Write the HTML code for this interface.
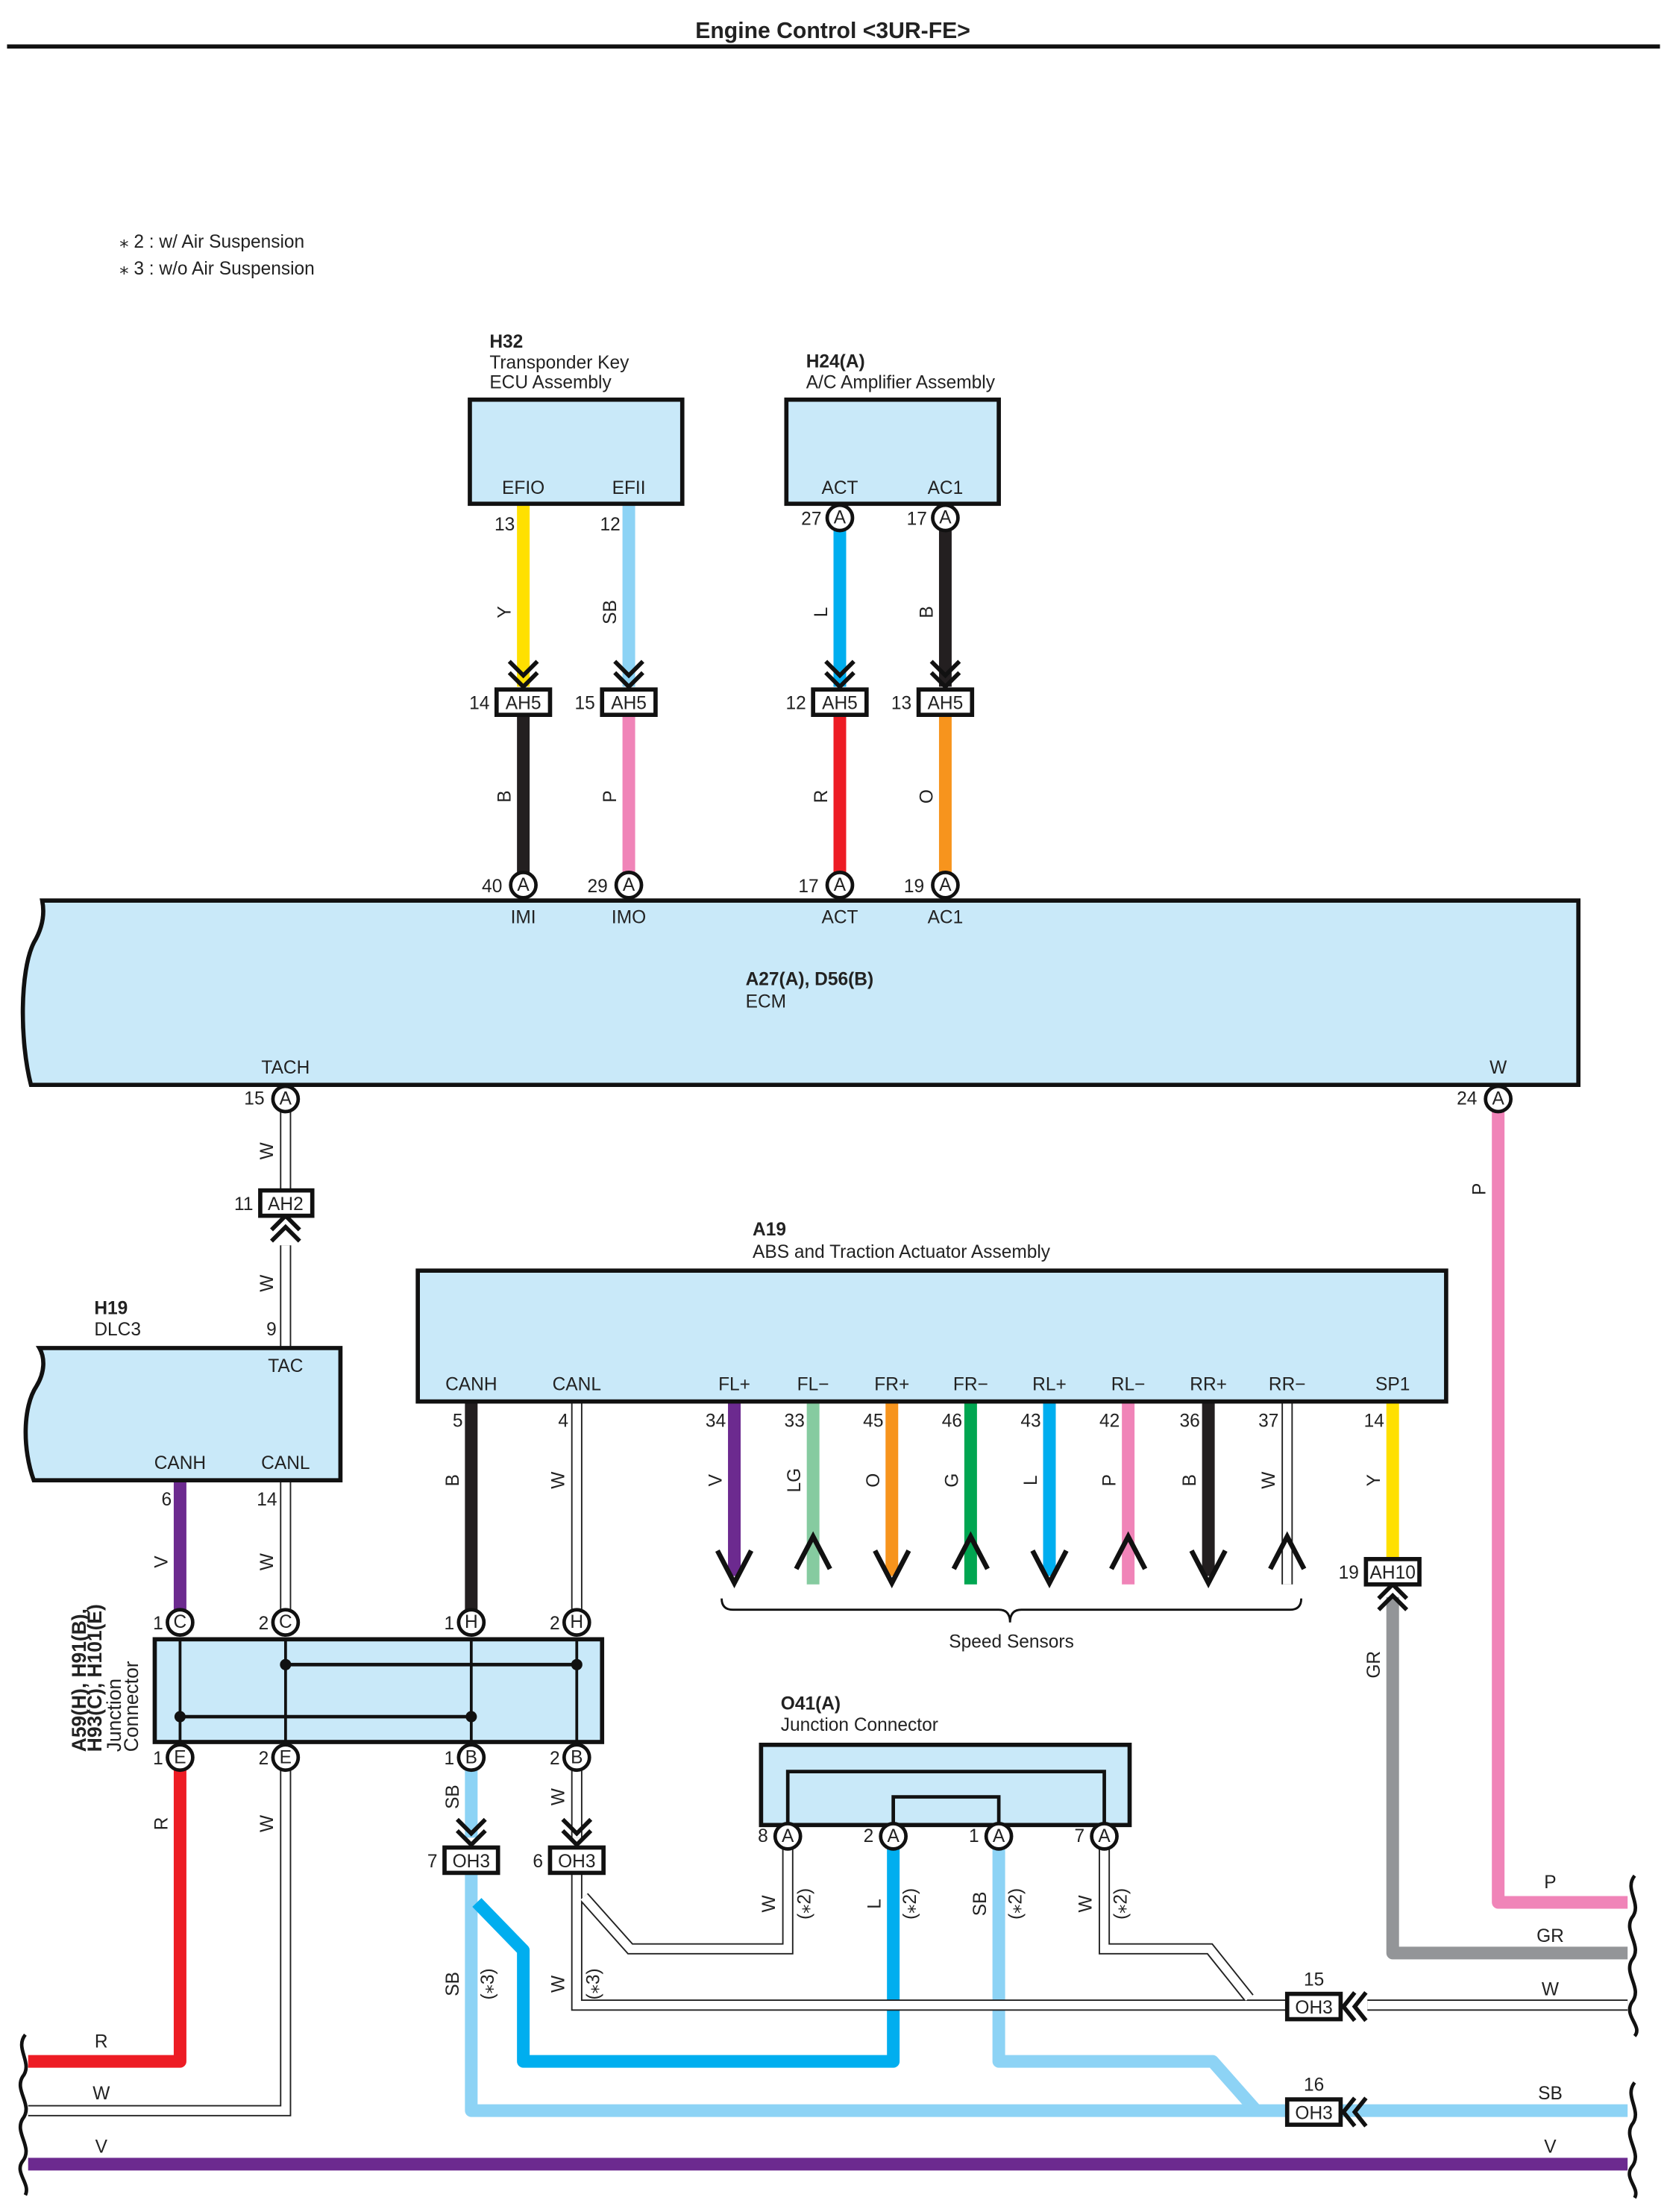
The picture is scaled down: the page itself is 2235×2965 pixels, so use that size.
<!DOCTYPE html>
<html><head><meta charset="utf-8"><style>
html,body{margin:0;padding:0;background:#fff}
svg{display:block}
text{font-family:"Liberation Sans",sans-serif;font-size:13px;fill:#222}
.b{font-weight:bold}
.pin{font-size:11px;text-anchor:middle}
.c{text-anchor:middle}
</style></head><body>
<svg width="2235" height="2965" viewBox="0 0 1185 1572" xmlns="http://www.w3.org/2000/svg">
<!-- title -->
<text x="592" y="27" class="b c" style="font-size:16px">Engine Control &lt;3UR-FE&gt;</text>
<line x1="5" y1="33" x2="1180" y2="33" stroke="#111" stroke-width="3"/>
<text x="85" y="176">⁎ 2 : w/ Air Suspension</text>
<text x="85" y="195">⁎ 3 : w/o Air Suspension</text>

<g fill="none" stroke-linejoin="round">
<line x1="372" y1="358" x2="372" y2="488" stroke="#ffe000" stroke-width="9"/>
<line x1="447" y1="358" x2="447" y2="488" stroke="#8dd3f5" stroke-width="9"/>
<line x1="372" y1="508" x2="372" y2="622" stroke="#231f20" stroke-width="9"/>
<line x1="447" y1="508" x2="447" y2="622" stroke="#f084b8" stroke-width="9"/>
<line x1="597" y1="376" x2="597" y2="488" stroke="#00aeef" stroke-width="9"/>
<line x1="672" y1="376" x2="672" y2="488" stroke="#231f20" stroke-width="9"/>
<line x1="597" y1="508" x2="597" y2="622" stroke="#ed1c24" stroke-width="9"/>
<line x1="672" y1="508" x2="672" y2="622" stroke="#f7941d" stroke-width="9"/>
<polyline points="1065,790 1065,1352 1157,1352" stroke="#f084b8" stroke-width="9"/>
<polyline points="990,1135 990,1388 1157,1388" stroke="#939598" stroke-width="9"/>
<line x1="990" y1="996" x2="990" y2="1108" stroke="#ffe000" stroke-width="9"/>
<line x1="128" y1="1052" x2="128" y2="1145" stroke="#6c2a8f" stroke-width="9"/>
<line x1="335" y1="996" x2="335" y2="1145" stroke="#231f20" stroke-width="9"/>
<line x1="522" y1="996" x2="522" y2="1120" stroke="#6c2a8f" stroke-width="9"/>
<line x1="578" y1="996" x2="578" y2="1126" stroke="#86cba0" stroke-width="9"/>
<line x1="634" y1="996" x2="634" y2="1120" stroke="#f7941d" stroke-width="9"/>
<line x1="690" y1="996" x2="690" y2="1126" stroke="#00a651" stroke-width="9"/>
<line x1="746" y1="996" x2="746" y2="1120" stroke="#00aeef" stroke-width="9"/>
<line x1="802" y1="996" x2="802" y2="1126" stroke="#f084b8" stroke-width="9"/>
<line x1="859" y1="996" x2="859" y2="1120" stroke="#231f20" stroke-width="9"/>
<polyline points="128,1258 128,1465 20,1465" stroke="#ed1c24" stroke-width="9"/>
<polyline points="335,1258 335,1306" stroke="#8dd3f5" stroke-width="9"/>
<polyline points="335,1331 335,1500 1157,1500" stroke="#8dd3f5" stroke-width="9"/>
<polyline points="339,1352 372,1386 372,1465 635,1465 635,1313" stroke="#00aeef" stroke-width="9"/>
<polyline points="710,1313 710,1465 862,1465 893,1500" stroke="#8dd3f5" stroke-width="9"/>
<line x1="20" y1="1538" x2="1157" y2="1538" stroke="#6c2a8f" stroke-width="9"/>
</g>

<g fill="none" stroke-linejoin="miter">
<g stroke="#222" stroke-width="8">
<line x1="203" y1="790" x2="203" y2="846"/>
<line x1="203" y1="885" x2="203" y2="1145"/>
<polyline points="203,1258 203,1500 20,1500"/>
<line x1="410" y1="996" x2="410" y2="1145"/>
<line x1="410" y1="1258" x2="410" y2="1306"/>
<polyline points="410,1331 410,1425 915,1425"/>
<polyline points="415,1348 448,1385 560,1385 560,1313"/>
<polyline points="785,1313 785,1385 860,1385 888,1420"/>
<line x1="972" y1="1425" x2="1157" y2="1425"/>
<line x1="915" y1="996" x2="915" y2="1126"/>
</g>
<g stroke="#fff" stroke-width="6">
<line x1="203" y1="790" x2="203" y2="846"/>
<line x1="203" y1="885" x2="203" y2="1145"/>
<polyline points="203,1258 203,1500 20,1500"/>
<line x1="410" y1="996" x2="410" y2="1145"/>
<line x1="410" y1="1258" x2="410" y2="1306"/>
<polyline points="410,1331 410,1425 915,1425"/>
<polyline points="415,1348 448,1385 560,1385 560,1313"/>
<polyline points="785,1313 785,1385 860,1385 888,1420"/>
<line x1="972" y1="1425" x2="1157" y2="1425"/>
<line x1="915" y1="996" x2="915" y2="1126"/>
</g>
</g>

<g fill="#c9e9f9" stroke="#111" stroke-width="3">
<rect x="334" y="284" width="151" height="74"/>
<rect x="559" y="284" width="151" height="74"/>
<path d="M30,640 H1122 V771 H22 C14,740 14,690 24,670 C30,660 32,650 30,640 Z"/>
<path d="M28,958 H242 V1052 H24 C16,1030 16,1000 26,985 C32,975 32,965 28,958 Z"/>
<rect x="297" y="903" width="731" height="93"/>
<rect x="110" y="1165" width="318" height="73"/>
<rect x="541" y="1240" width="262" height="57"/>
</g>

<text x="348" y="247" class="b">H32</text>
<text x="348" y="262">Transponder Key</text>
<text x="348" y="276">ECU Assembly</text>
<text x="372" y="351" class="c">EFIO</text>
<text x="447" y="351" class="c">EFII</text>
<text x="366" y="377" style="text-anchor:end">13</text>
<text x="441" y="377" style="text-anchor:end">12</text>
<text x="573" y="261" class="b">H24(A)</text>
<text x="573" y="276">A/C Amplifier Assembly</text>
<text x="597" y="351" class="c">ACT</text>
<text x="672" y="351" class="c">AC1</text>
<text x="584" y="373" style="text-anchor:end">27</text>
<text x="659" y="373" style="text-anchor:end">17</text>

<g>
<text transform="translate(363,435) rotate(-90)" class="c">Y</text>
<text transform="translate(438,435) rotate(-90)" class="c">SB</text>
<text transform="translate(588,435) rotate(-90)" class="c">L</text>
<text transform="translate(663,435) rotate(-90)" class="c">B</text>
<text transform="translate(363,566) rotate(-90)" class="c">B</text>
<text transform="translate(438,566) rotate(-90)" class="c">P</text>
<text transform="translate(588,566) rotate(-90)" class="c">R</text>
<text transform="translate(663,566) rotate(-90)" class="c">O</text>
<text transform="translate(194,818) rotate(-90)" class="c">W</text>
<text transform="translate(194,912) rotate(-90)" class="c">W</text>
<text transform="translate(1056,845) rotate(-90)" class="c">P</text>
<text transform="translate(119,1110) rotate(-90)" class="c">V</text>
<text transform="translate(194,1110) rotate(-90)" class="c">W</text>
<text transform="translate(326,1052) rotate(-90)" class="c">B</text>
<text transform="translate(401,1052) rotate(-90)" class="c">W</text>
<text transform="translate(513,1052) rotate(-90)" class="c">V</text>
<text transform="translate(569,1052) rotate(-90)" class="c">LG</text>
<text transform="translate(625,1052) rotate(-90)" class="c">O</text>
<text transform="translate(681,1052) rotate(-90)" class="c">G</text>
<text transform="translate(737,1052) rotate(-90)" class="c">L</text>
<text transform="translate(793,1052) rotate(-90)" class="c">P</text>
<text transform="translate(850,1052) rotate(-90)" class="c">B</text>
<text transform="translate(906,1052) rotate(-90)" class="c">W</text>
<text transform="translate(981,1052) rotate(-90)" class="c">Y</text>
<text transform="translate(981,1183) rotate(-90)" class="c">GR</text>
<text transform="translate(119,1296) rotate(-90)" class="c">R</text>
<text transform="translate(194,1296) rotate(-90)" class="c">W</text>
<text transform="translate(326,1277) rotate(-90)" class="c">SB</text>
<text transform="translate(401,1277) rotate(-90)" class="c">W</text>
<text transform="translate(326,1410) rotate(-90)" class="c">SB</text>
<text transform="translate(351,1410) rotate(-90)" class="c">(⁎3)</text>
<text transform="translate(401,1410) rotate(-90)" class="c">W</text>
<text transform="translate(426,1410) rotate(-90)" class="c">(⁎3)</text>
<text transform="translate(551,1353) rotate(-90)" class="c">W</text>
<text transform="translate(576,1353) rotate(-90)" class="c">(⁎2)</text>
<text transform="translate(626,1353) rotate(-90)" class="c">L</text>
<text transform="translate(651,1353) rotate(-90)" class="c">(⁎2)</text>
<text transform="translate(701,1353) rotate(-90)" class="c">SB</text>
<text transform="translate(726,1353) rotate(-90)" class="c">(⁎2)</text>
<text transform="translate(776,1353) rotate(-90)" class="c">W</text>
<text transform="translate(801,1353) rotate(-90)" class="c">(⁎2)</text>
</g>

<g fill="none" stroke="#111" stroke-width="3">
<polyline points="362,470 372,480 382,470"/><polyline points="362,478 372,488 382,478"/>
<polyline points="437,470 447,480 457,470"/><polyline points="437,478 447,488 457,478"/>
<polyline points="587,470 597,480 607,470"/><polyline points="587,478 597,488 607,478"/>
<polyline points="662,470 672,480 682,470"/><polyline points="662,478 672,488 682,478"/>
<polyline points="193,874 203,864 213,874"/><polyline points="193,882 203,872 213,882"/>
<polyline points="980,1136 990,1126 1000,1136"/><polyline points="980,1144 990,1134 1000,1144"/>
<polyline points="325,1293 335,1303 345,1293"/><polyline points="325,1301 335,1311 345,1301"/>
<polyline points="400,1293 410,1303 420,1293"/><polyline points="400,1301 410,1311 420,1301"/>
<polyline points="963,1416 955,1426 963,1436"/><polyline points="971,1416 963,1426 971,1436"/>
<polyline points="963,1491 955,1501 963,1511"/><polyline points="971,1491 963,1501 971,1511"/>
<polyline points="510,1102 522,1125 534,1102" stroke-width="3.5"/>
<polyline points="566,1115 578,1092 590,1115" stroke-width="3.5"/>
<polyline points="622,1102 634,1125 646,1102" stroke-width="3.5"/>
<polyline points="678,1115 690,1092 702,1115" stroke-width="3.5"/>
<polyline points="734,1102 746,1125 758,1102" stroke-width="3.5"/>
<polyline points="790,1115 802,1092 814,1115" stroke-width="3.5"/>
<polyline points="847,1102 859,1125 871,1102" stroke-width="3.5"/>
<polyline points="903,1115 915,1092 927,1115" stroke-width="3.5"/>
<path d="M513,1136 Q513,1144 521,1144 H710 Q718,1144 718,1153 Q718,1144 726,1144 H917 Q925,1144 925,1136" stroke-width="1.5"/>
</g>
<text x="719" y="1171" class="c">Speed Sensors</text>

<g fill="#fff" stroke="#111" stroke-width="3">
<rect x="353" y="490" width="38" height="18"/>
<rect x="428" y="490" width="38" height="18"/>
<rect x="578" y="490" width="38" height="18"/>
<rect x="653" y="490" width="38" height="18"/>
<rect x="185" y="846" width="37" height="18"/>
<rect x="971" y="1108" width="38" height="18"/>
<rect x="316" y="1313" width="38" height="18"/>
<rect x="391" y="1313" width="38" height="18"/>
<rect x="915" y="1417" width="38" height="18"/>
<rect x="915" y="1492" width="38" height="18"/>
</g>
<g class="pin" style="font-size:12px">
<text x="372" y="504" class="c">AH5</text><text x="447" y="504" class="c">AH5</text>
<text x="597" y="504" class="c">AH5</text><text x="672" y="504" class="c">AH5</text>
<text x="203" y="860" class="c">AH2</text>
<text x="990" y="1122" class="c">AH10</text>
<text x="335" y="1327" class="c">OH3</text><text x="410" y="1327" class="c">OH3</text>
<text x="934" y="1431" class="c">OH3</text><text x="934" y="1506" class="c">OH3</text>
</g>
<g style="text-anchor:end">
<text x="348" y="504">14</text><text x="423" y="504">15</text>
<text x="573" y="504">12</text><text x="648" y="504">13</text>
<text x="180" y="860">11</text>
<text x="966" y="1122">19</text>
<text x="311" y="1327">7</text><text x="386" y="1327">6</text>
</g>
<text x="934" y="1411" class="c">15</text>
<text x="934" y="1486" class="c">16</text>

<text x="372" y="656" class="c">IMI</text><text x="447" y="656" class="c">IMO</text>
<text x="597" y="656" class="c">ACT</text><text x="672" y="656" class="c">AC1</text>
<text x="530" y="700" class="b">A27(A), D56(B)</text>
<text x="530" y="716">ECM</text>
<text x="203" y="763" class="c">TACH</text>
<text x="1065" y="763" class="c">W</text>
<text x="357" y="634" style="text-anchor:end">40</text>
<text x="432" y="634" style="text-anchor:end">29</text>
<text x="582" y="634" style="text-anchor:end">17</text>
<text x="657" y="634" style="text-anchor:end">19</text>
<text x="188" y="785" style="text-anchor:end">15</text>
<text x="1050" y="785" style="text-anchor:end">24</text>
<text x="193" y="949" class="c">9</text>

<text x="67" y="934" class="b">H19</text>
<text x="67" y="949">DLC3</text>
<text x="203" y="975" class="c">TAC</text>
<text x="128" y="1044" class="c">CANH</text>
<text x="203" y="1044" class="c">CANL</text>
<text x="122" y="1070" style="text-anchor:end">6</text>
<text x="197" y="1070" style="text-anchor:end">14</text>

<text x="535" y="878" class="b">A19</text>
<text x="535" y="894">ABS and Traction Actuator Assembly</text>
<g class="c">
<text x="335" y="988">CANH</text><text x="410" y="988">CANL</text>
<text x="522" y="988">FL+</text><text x="578" y="988">FL−</text>
<text x="634" y="988">FR+</text><text x="690" y="988">FR−</text>
<text x="746" y="988">RL+</text><text x="802" y="988">RL−</text>
<text x="859" y="988">RR+</text><text x="915" y="988">RR−</text>
<text x="990" y="988">SP1</text>
</g>
<g style="text-anchor:end">
<text x="329" y="1014">5</text><text x="404" y="1014">4</text>
<text x="516" y="1014">34</text><text x="572" y="1014">33</text>
<text x="628" y="1014">45</text><text x="684" y="1014">46</text>
<text x="740" y="1014">43</text><text x="796" y="1014">42</text>
<text x="853" y="1014">36</text><text x="909" y="1014">37</text>
<text x="984" y="1014">14</text>
</g>

<g stroke="#111" stroke-width="2">
<line x1="128" y1="1165" x2="128" y2="1238"/>
<line x1="203" y1="1165" x2="203" y2="1238"/>
<line x1="335" y1="1165" x2="335" y2="1238"/>
<line x1="410" y1="1165" x2="410" y2="1238"/>
<line x1="203" y1="1183" x2="410" y2="1183" stroke-width="2.5"/>
<line x1="128" y1="1220" x2="335" y2="1220" stroke-width="2.5"/>
</g>
<g fill="#111">
<circle cx="203" cy="1183" r="4"/><circle cx="410" cy="1183" r="4"/>
<circle cx="128" cy="1220" r="4"/><circle cx="335" cy="1220" r="4"/>
</g>
<g transform="translate(61,1245) rotate(-90)">
<text x="0" y="0" class="b" style="font-size:14px">A59(H), H91(B),</text>
<text x="0" y="11" class="b" style="font-size:14px">H93(C), H101(E)</text>
<text x="0" y="25" style="font-size:14px">Junction</text>
<text x="0" y="37" style="font-size:14px">Connector</text>
</g>

<text x="555" y="1215" class="b">O41(A)</text>
<text x="555" y="1230">Junction Connector</text>
<g fill="none" stroke="#111" stroke-width="2.5">
<polyline points="560,1297 560,1259 785,1259 785,1297"/>
<polyline points="635,1297 635,1277 710,1277 710,1297"/>
</g>
<g style="text-anchor:end">
<text x="546" y="1309">8</text><text x="621" y="1309">2</text>
<text x="696" y="1309">1</text><text x="771" y="1309">7</text>
<text x="116" y="1158">1</text><text x="191" y="1158">2</text>
<text x="323" y="1158">1</text><text x="398" y="1158">2</text>
<text x="116" y="1254">1</text><text x="191" y="1254">2</text>
<text x="323" y="1254">1</text><text x="398" y="1254">2</text>
</g>

<g fill="#fff" stroke="#111" stroke-width="2.5">
<circle cx="597" cy="368" r="9"/><circle cx="672" cy="368" r="9"/>
<circle cx="372" cy="629" r="9"/><circle cx="447" cy="629" r="9"/>
<circle cx="597" cy="629" r="9"/><circle cx="672" cy="629" r="9"/>
<circle cx="203" cy="781" r="9"/><circle cx="1065" cy="781" r="9"/>
<circle cx="128" cy="1153" r="9"/><circle cx="203" cy="1153" r="9"/>
<circle cx="335" cy="1153" r="9"/><circle cx="410" cy="1153" r="9"/>
<circle cx="128" cy="1249" r="9"/><circle cx="203" cy="1249" r="9"/>
<circle cx="335" cy="1249" r="9"/><circle cx="410" cy="1249" r="9"/>
<circle cx="560" cy="1305" r="9"/><circle cx="635" cy="1305" r="9"/>
<circle cx="710" cy="1305" r="9"/><circle cx="785" cy="1305" r="9"/>
</g>
<g class="pin">
<text x="597" y="372">A</text><text x="672" y="372">A</text>
<text x="372" y="633">A</text><text x="447" y="633">A</text>
<text x="597" y="633">A</text><text x="672" y="633">A</text>
<text x="203" y="785">A</text><text x="1065" y="785">A</text>
<text x="128" y="1157">C</text><text x="203" y="1157">C</text>
<text x="335" y="1157">H</text><text x="410" y="1157">H</text>
<text x="128" y="1253">E</text><text x="203" y="1253">E</text>
<text x="335" y="1253">B</text><text x="410" y="1253">B</text>
<text x="560" y="1309">A</text><text x="635" y="1309">A</text>
<text x="710" y="1309">A</text><text x="785" y="1309">A</text>
</g>

<g class="c">
<text x="1102" y="1342">P</text><text x="1102" y="1380">GR</text>
<text x="1102" y="1418">W</text><text x="1102" y="1492">SB</text>
<text x="1102" y="1530">V</text>
<text x="72" y="1455">R</text><text x="72" y="1492">W</text><text x="72" y="1530">V</text>
</g>

<g fill="none" stroke="#111" stroke-width="2.5">
<path d="M1162,1333 C1154,1343 1168,1353 1160,1363 C1154,1373 1168,1383 1160,1393 C1154,1403 1168,1413 1160,1423 C1154,1433 1168,1440 1162,1447"/>
<path d="M1162,1480 C1154,1490 1168,1500 1160,1510 C1154,1520 1168,1530 1160,1540 C1154,1548 1166,1555 1162,1562"/>
<path d="M18,1446 C10,1456 24,1466 16,1476 C10,1486 24,1496 16,1506 C10,1516 24,1526 16,1536 C10,1544 22,1552 18,1560"/>
</g>
</svg>
</body></html>
